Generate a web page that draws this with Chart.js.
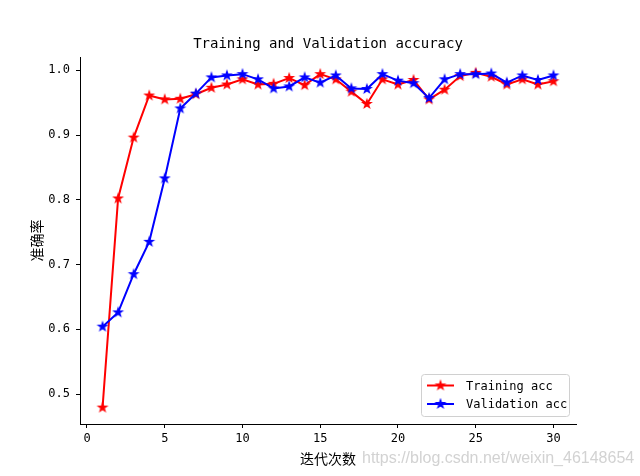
<!DOCTYPE html>
<html>
<head>
<meta charset="utf-8">
<script src="https://cdn.jsdelivr.net/npm/chart.js@4.4.1/dist/chart.umd.min.js"></script>
<style>
  html, body { margin: 0; padding: 0; background: #fff; }
  canvas { display: block; }
</style>
</head>
<body>
<canvas id="acc-chart" width="640" height="476"></canvas>
<script>
// --- data ---
const epochs = [1, 2, 3, 4, 5, 6, 7, 8, 9, 10, 11, 12, 13, 14, 15, 16, 17, 18, 19, 20, 21, 22, 23, 24, 25, 26, 27, 28, 29, 30];
const trainAcc = [0.479, 0.802, 0.896, 0.961, 0.955, 0.956, 0.963, 0.973, 0.978, 0.986,
                  0.978, 0.979, 0.988, 0.977, 0.994, 0.986, 0.967, 0.948, 0.986, 0.978,
                  0.985, 0.955, 0.970, 0.991, 0.996, 0.990, 0.978, 0.986, 0.978, 0.983];
const valAcc = [0.604, 0.626, 0.685, 0.735, 0.833, 0.941, 0.964, 0.989, 0.992, 0.994,
                0.986, 0.972, 0.975, 0.989, 0.981, 0.992, 0.972, 0.971, 0.994, 0.984,
                0.980, 0.957, 0.986, 0.994, 0.994, 0.995, 0.981, 0.992, 0.985, 0.992];
const xTicks = [0, 5, 10, 15, 20, 25, 30];
const yTicks = [0.5, 0.6, 0.7, 0.8, 0.9, 1.0];
const seriesLabels = ['Training acc', 'Validation acc'];
const seriesColors = ['#ff0000', '#0000ff'];
const chartTitle = 'Training and Validation accuracy';

const MONO = '"DejaVu Sans Mono", "Liberation Mono", monospace';
const CJK = '"Noto Sans CJK SC", "DejaVu Sans", sans-serif';

// filled 5-point star, like matplotlib's '*' marker
function makeStar(color) {
  const c = document.createElement('canvas');
  c.width = 14; c.height = 14;
  const g = c.getContext('2d');
  const R = 4.2, r = R * 0.381966;
  g.beginPath();
  for (let i = 0; i < 10; i++) {
    const rad = i % 2 === 0 ? R : r;
    const a = -Math.PI / 2 + i * Math.PI / 5;
    const px = 7 + rad * Math.cos(a), py = 7 + rad * Math.sin(a);
    if (i === 0) g.moveTo(px, py); else g.lineTo(px, py);
  }
  g.closePath();
  g.fillStyle = color;
  g.strokeStyle = color;
  g.lineWidth = 1.3;
  g.lineJoin = 'miter';
  g.fill();
  g.stroke();
  return c;
}
const stars = seriesColors.map(makeStar);

function toPoints(ys) {
  return epochs.map((e, i) => ({ x: e, y: ys[i] }));
}

// --- title over the axes, legend box lower right, csdn watermark ---
const extrasPlugin = {
  id: 'extras',
  afterDraw(chart) {
    const ctx = chart.ctx;
    const area = chart.chartArea;
    ctx.save();
    // title, centred on the axes like matplotlib
    ctx.font = '14px ' + MONO;
    ctx.fillStyle = '#000';
    ctx.textAlign = 'center';
    ctx.textBaseline = 'middle';
    ctx.fillText(chartTitle, (area.left + area.right) / 2, 44);

    // legend
    const bx = 421.5, by = 374.5, bw = 148, bh = 42;
    ctx.beginPath();
    ctx.roundRect(bx, by, bw, bh, 3);
    ctx.fillStyle = 'rgba(255,255,255,0.8)';
    ctx.fill();
    ctx.strokeStyle = '#d0d0d0';
    ctx.lineWidth = 1;
    ctx.stroke();
    ctx.font = '12px ' + MONO;
    ctx.textAlign = 'left';
    chart.data.datasets.forEach((ds, i) => {
      const yy = 385.5 + i * 18.5;
      ctx.strokeStyle = ds.borderColor;
      ctx.lineWidth = 2;
      ctx.beginPath();
      ctx.moveTo(427, yy);
      ctx.lineTo(454, yy);
      ctx.stroke();
      ctx.drawImage(stars[i], 440.5 - 7, yy - 7);
      ctx.fillStyle = '#000';
      ctx.fillText(ds.label, 466, yy + 1);
    });

    // watermark
    ctx.font = '16px "Liberation Sans", Arial, sans-serif';
    ctx.fillStyle = 'rgba(195,195,195,0.75)';
    ctx.fillText('https://blog.csdn.net/weixin_46148654', 362, 459);
    ctx.restore();
  }
};

const accCtx = document.getElementById('acc-chart').getContext('2d');
new Chart(accCtx, {
  type: 'line',
  data: {
    datasets: [
      {
        label: seriesLabels[0],
        data: toPoints(trainAcc),
        borderColor: seriesColors[0],
        backgroundColor: seriesColors[0],
        borderWidth: 2,
        pointStyle: stars[0],
        tension: 0,
        order: 2
      },
      {
        label: seriesLabels[1],
        data: toPoints(valAcc),
        borderColor: seriesColors[1],
        backgroundColor: seriesColors[1],
        borderWidth: 2,
        pointStyle: stars[1],
        tension: 0,
        order: 1
      }
    ]
  },
  options: {
    responsive: false,
    animation: false,
    events: [],
    layout: { padding: { left: 0, top: 57, right: 64, bottom: 0 } },
    plugins: {
      legend: { display: false },
      tooltip: { enabled: false },
      title: { display: false }
    },
    scales: {
      x: {
        type: 'linear',
        min: -0.45,
        max: 31.45,
        afterBuildTicks: s => { s.ticks = xTicks.map(v => ({ value: v })); },
        afterFit: s => { s.height = 52; },
        grid: { drawOnChartArea: false, drawTicks: true, tickLength: 4, color: '#000', tickWidth: 1 },
        border: { display: true, color: '#000', width: 1 },
        ticks: { color: '#000', padding: 4, maxRotation: 0, font: { family: MONO, size: 12 } },
        title: {
          display: true,
          text: '迭代次数',
          color: '#000',
          font: { family: CJK, size: 14 },
          padding: { top: 0, bottom: 9 }
        }
      },
      y: {
        type: 'linear',
        min: 0.4537,
        max: 1.0205,
        afterBuildTicks: s => { s.ticks = yTicks.map(v => ({ value: v })); },
        afterFit: s => { s.width = 80; },
        grid: { drawOnChartArea: false, drawTicks: true, tickLength: 4, color: '#000', tickWidth: 1 },
        border: { display: true, color: '#000', width: 1 },
        ticks: { color: '#000', padding: 6, font: { family: MONO, size: 12 }, callback: v => v.toFixed(1) },
        title: {
          display: true,
          text: '准确率',
          color: '#000',
          font: { family: CJK, size: 14 },
          padding: { top: 28, bottom: 0 }
        }
      }
    }
  },
  plugins: [extrasPlugin]
});
</script>
</body>
</html>
